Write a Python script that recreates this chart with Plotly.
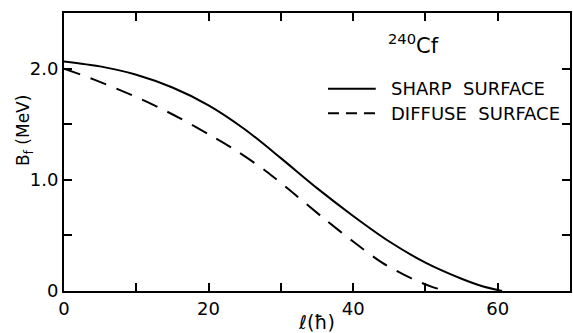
import plotly.graph_objects as go

# Data
l_sharp = [0, 5, 10, 15, 20, 25, 30, 35, 40, 45, 50, 55, 58, 60.6]
b_sharp = [2.065, 2.02, 1.945, 1.83, 1.67, 1.455, 1.195, 0.925, 0.675, 0.445, 0.255, 0.11, 0.04, 0.0]

l_diffuse = [0, 4, 8, 12, 16, 20, 24, 28, 32, 36, 40, 44, 48, 51, 53]
b_diffuse = [2.0, 1.905, 1.80, 1.685, 1.555, 1.41, 1.255, 1.075, 0.865, 0.65, 0.445, 0.255, 0.115, 0.035, 0.0]

series_names = ["SHARP SURFACE", "DIFFUSE SURFACE"]
nuclide = "<sup>240</sup>Cf"

x_tickvals = [0, 20, 40, 60]
x_ticktext = ["0", "20", "40", "60"]
y_tickvals = [0, 1.0, 2.0]
y_ticktext = ["0", "1.0", "2.0"]
x_minor_step = 10
y_minor_step = 0.5

FONT = "DejaVu Sans"
DASH_CURVE = "17px,11px"
DASH_KEY = "11px,7px"

fig = go.Figure()
fig.add_trace(go.Scatter(x=l_sharp, y=b_sharp, mode="lines", name=series_names[0], showlegend=False,
                         line=dict(color="black", width=2, shape="spline", smoothing=0.8)))
fig.add_trace(go.Scatter(x=l_diffuse, y=b_diffuse, mode="lines", name=series_names[1], showlegend=False,
                         line=dict(color="black", width=2, dash=DASH_CURVE, shape="spline", smoothing=0.8)))

axis_common = dict(showgrid=False, zeroline=False, showline=True, linecolor="black",
                   linewidth=2, mirror="ticks", ticks="inside", ticklen=8, tickwidth=2,
                   tickcolor="black", tickfont=dict(family=FONT, size=18, color="black"))
minor_common = dict(ticks="inside", ticklen=8, tickwidth=2, tickcolor="black", showgrid=False)

fig.update_xaxes(range=[0, 70], tickvals=x_tickvals, ticktext=x_ticktext,
                 minor=dict(tick0=0, dtick=x_minor_step, **minor_common),
                 title=dict(text="ℓ(ħ)", font=dict(family=FONT, size=19, color="black"), standoff=0),
                 **axis_common)
fig.update_yaxes(range=[0, 2.5], tickvals=y_tickvals, ticktext=y_ticktext,
                 minor=dict(tick0=0, dtick=y_minor_step, **minor_common),
                 **axis_common)

# y-axis title
fig.add_annotation(xref="paper", yref="paper", x=-0.077, y=0.576, xanchor="center", yanchor="middle",
                   text="B<sub>f</sub> (MeV)", textangle=-90, showarrow=False,
                   font=dict(family=FONT, size=17, color="black"))

# nuclide label
fig.add_annotation(xref="paper", yref="paper", x=0.636, y=0.83, xanchor="left", yanchor="bottom",
                   text=nuclide, showarrow=False,
                   font=dict(family=FONT, size=21, color="black"))

# legend key (drawn manually to match the reference's line samples)
key_x0, key_x1, key_text_x = 0.5217, 0.6161, 0.6417
key_rows = [(0.7279, None), (0.6396, DASH_KEY)]
for (yk, dash), name in zip(key_rows, series_names):
    fig.add_shape(type="line", xref="paper", yref="paper", x0=key_x0, x1=key_x1, y0=yk, y1=yk,
                  line=dict(color="black", width=2, dash=dash if dash else "solid"))
    fig.add_annotation(xref="paper", yref="paper", x=key_text_x, y=yk, xanchor="left", yanchor="middle",
                       text=name.replace(" ", "\u00a0\u00a0"), showarrow=False,
                       font=dict(family=FONT, size=18, color="black"))

fig.update_layout(
    width=573, height=333,
    margin=dict(l=64, r=1, t=13, b=37),
    paper_bgcolor="white", plot_bgcolor="white",
    showlegend=False,
)

fig.write_html("out.html")
